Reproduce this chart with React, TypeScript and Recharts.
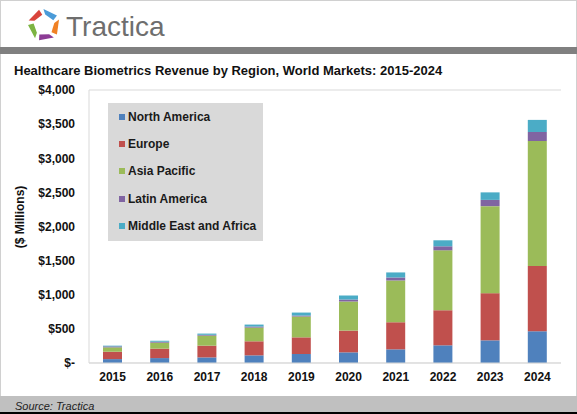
import React from 'react';
import { BarChart, Bar, XAxis, YAxis, CartesianGrid, Legend } from 'recharts';

const years = ['2015', '2016', '2017', '2018', '2019', '2020', '2021', '2022', '2023', '2024'];
const northAmerica = [57, 72, 82, 112, 132, 156, 200, 259, 332, 465];
const europe = [108, 138, 172, 206, 244, 319, 397, 514, 691, 955];
const asiaPacific = [64, 88, 147, 201, 305, 426, 612, 878, 1275, 1833];
const latinAmerica = [14, 14, 12, 15, 14, 29, 44, 59, 92, 132];
const middleEastAfrica = [11, 14, 18, 29, 44, 59, 74, 88, 110, 177];
const yTicks = [0, 500, 1000, 1500, 2000, 2500, 3000, 3500, 4000];

const seriesNames = ['North America', 'Europe', 'Asia Pacific', 'Latin America', 'Middle East and Africa'];
const seriesColors = ['#4f81bd', '#c0504d', '#9bbb59', '#8064a2', '#4bacc6'];
const seriesValues = [northAmerica, europe, asiaPacific, latinAmerica, middleEastAfrica];
const seriesKeys = ['na', 'eu', 'ap', 'la', 'me'];

const data = years.map((y, i) => {
  const row: Record<string, string | number> = { year: y };
  seriesKeys.forEach((k, j) => {
    row[k] = seriesValues[j][i];
  });
  return row;
});

const font = 'Arial, "Liberation Sans", sans-serif';

const fmt = (v: number) => (v === 0 ? '$-' : '$' + v.toLocaleString('en-US'));

const LegendBox = () => {
  return (
    <div
      style={{
        width: 155,
        height: 138,
        background: '#d9d9d9',
        boxSizing: 'border-box',
        paddingTop: 0.5,
        fontFamily: font,
        fontWeight: 'bold',
        fontSize: 12,
        color: '#1a1a1a',
        textAlign: 'left',
      }}
    >
      {seriesNames.map((n, j) => (
        <div key={n} style={{ height: 27.2, display: 'flex', alignItems: 'center', paddingLeft: 11, lineHeight: '14px' }}>
          <span style={{ display: 'inline-block', width: 6, height: 6, background: seriesColors[j], marginRight: 3 }} />
          <span>{n}</span>
        </div>
      ))}
    </div>
  );
};

const segColors = ['#d9443b', '#4b9bd8', '#f08124', '#8c3b95', '#7db443'];

const Logo = () => {
  const cx = 44;
  const cy = 25;
  const ro = 16;
  const ri = 10.5;
  const segs = segColors.map((c, i) => {
    const a0 = ((-170 + i * 72 + 6) * Math.PI) / 180;
    const a1 = ((-170 + i * 72 + 62) * Math.PI) / 180;
    const pts = [
      [cx + ro * Math.cos(a0), cy + ro * Math.sin(a0)],
      [cx + ro * Math.cos(a1), cy + ro * Math.sin(a1)],
      [cx + ri * Math.cos(a1 + 0.15), cy + ri * Math.sin(a1 + 0.15)],
      [cx + ri * Math.cos(a0 + 0.15), cy + ri * Math.sin(a0 + 0.15)],
    ];
    return <polygon key={i} points={pts.map((p) => p.join(',')).join(' ')} fill={c} />;
  });
  return <g>{segs}</g>;
};

export default function App() {
  return (
    <div style={{ position: 'absolute', left: 0, top: 0, width: 577, height: 414, background: '#fff', overflow: 'hidden' }}>
      <svg width={577} height={414} style={{ position: 'absolute', left: 0, top: 0 }}>
        <rect x={0} y={0} width={577} height={414} fill="#fff" />
        <rect x={0.5} y={0.5} width={576} height={413} fill="none" stroke="#d0d0d0" />
        <Logo />
        <text x={66} y={36} fontFamily={font} fontSize={28} fill="#6e6e6e">
          Tractica
        </text>
        <rect x={0} y={47} width={577} height={7} fill="#808080" />
        <text x={14} y={75} fontFamily={font} fontSize={13} fontWeight="bold" fill="#111">
          Healthcare Biometrics Revenue by Region, World Markets: 2015-2024
        </text>
        <text
          x={24}
          y={217}
          transform="rotate(-90 24 217)"
          textAnchor="middle"
          fontFamily={font}
          fontSize={12}
          fontWeight="bold"
          fill="#111"
        >
          ($ Millions)
        </text>
        <rect x={0} y={396} width={577} height={16} fill="#c0c0c0" />
        <rect x={0} y={412} width={577} height={2} fill="#000" />
        <text x={15} y={409.5} fontFamily={font} fontSize={11} fontStyle="italic" fill="#222">
          Source: Tractica
        </text>
      </svg>
      <div style={{ position: 'absolute', left: 0, top: 0 }}>
        <BarChart
          width={577}
          height={414}
          data={data}
          margin={{ top: 90, right: 16, bottom: 21, left: 0 }}
          barSize={19}
        >
          <CartesianGrid horizontal vertical={false} stroke="#d9d9d9" />
          <XAxis
            dataKey="year"
            height={30}
            axisLine={{ stroke: '#d9d9d9' }}
            tickLine={false}
            tickSize={0}
            tickMargin={9}
            tick={{ fontFamily: font, fontSize: 12, fontWeight: 'bold', fill: '#111' }}
          />
          <YAxis
            yAxisId="left"
            width={89}
            domain={[0, 4000]}
            ticks={yTicks}
            interval={0}
            tickFormatter={fmt}
            axisLine={{ stroke: '#d9d9d9' }}
            tickLine={false}
            tickSize={0}
            tickMargin={14}
            tick={{ fontFamily: font, fontSize: 12, fontWeight: 'bold', fill: '#111' }}
          />
          <YAxis
            yAxisId="right"
            orientation="right"
            width={0}
            domain={[0, 4000]}
            axisLine={{ stroke: '#d9d9d9' }}
            tickLine={false}
            tick={false}
          />
          <Legend
            verticalAlign="middle"
            align="center"
            layout="vertical"
            content={<LegendBox />}
            wrapperStyle={{ position: 'absolute', left: 108, top: 103, width: 155, height: 138 }}
          />
          {seriesKeys.map((k, j) => (
            <Bar
              key={k}
              yAxisId="left"
              dataKey={k}
              name={seriesNames[j]}
              stackId="a"
              fill={seriesColors[j]}
              isAnimationActive={false}
            />
          ))}
        </BarChart>
      </div>
    </div>
  );
}
